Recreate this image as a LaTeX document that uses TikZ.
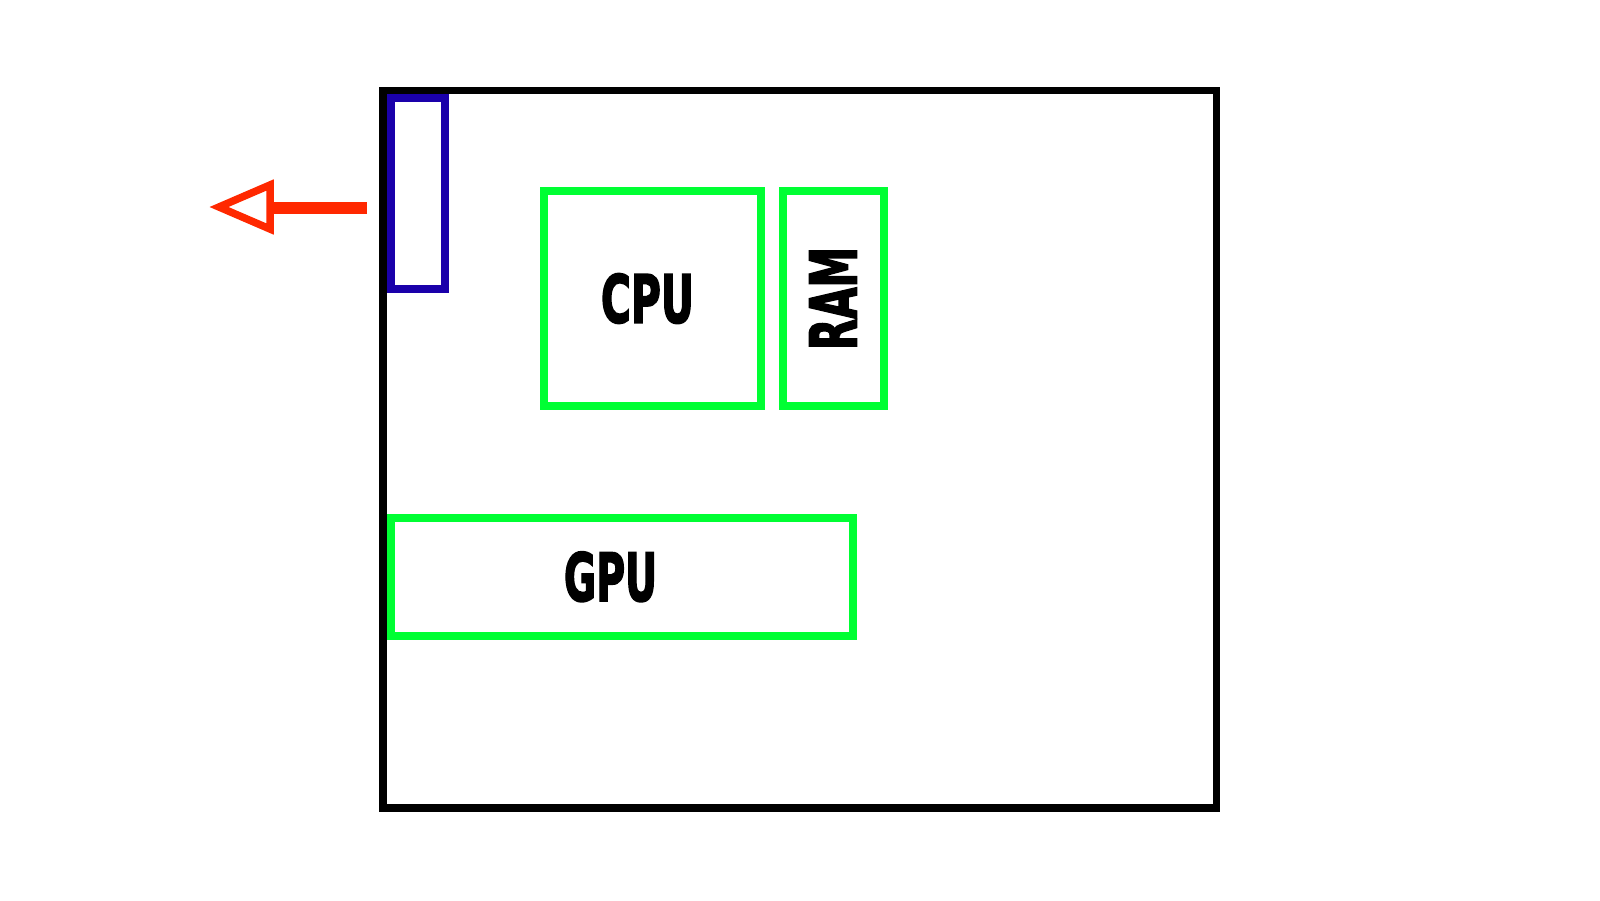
\documentclass[tikz,border=0pt]{standalone}
\usepackage{fontspec}
\setmainfont{DejaVu Sans}
\newfontfamily\heavyfont{DejaVu Sans}[BoldFeatures={FakeBold=3}]
\usetikzlibrary{positioning,calc}
\definecolor{chipgreen}{RGB}{0,255,51}
\definecolor{portblue}{RGB}{26,0,170}
\definecolor{arrred}{RGB}{255,40,0}
\tikzset{
  chipbox/.style={draw=chipgreen, line width=8pt, inner sep=0pt, outer sep=0pt, rectangle, text=black, font=\heavyfont\bfseries},
  portbox/.style={draw=portblue, line width=8pt, inner sep=0pt, rectangle},
  casebox/.style={draw=black, line width=7.5pt, inner sep=0pt, rectangle, miter limit=10},
  outarrow/.style={draw=arrred, line width=12pt},
  outhead/.style={draw=arrred, line width=7.5pt, line join=miter, miter limit=20}
}
\begin{document}
\begin{tikzpicture}[x=1pt, y=-1pt]
\useasboundingbox (0,0) rectangle (1600,900);
% case
\node[casebox, minimum width=833.7pt, minimum height=717.5pt] (case) at (799.85,449.25) {};
% port
\node[portbox, minimum width=53.4pt, minimum height=191pt] (port) at (418,193.5) {};
% CPU
\node[chipbox, minimum width=217pt, minimum height=215pt] (cpu) at (652.5,298.5)
  {\hspace{-10pt}\resizebox{93pt}{49pt}{CPU}};
% RAM
\node[chipbox, minimum width=101pt, minimum height=215pt] (ram) at (833,298.5)
  {\rotatebox{90}{\resizebox{103pt}{47pt}{RAM}}};
% GPU
\node[chipbox, minimum width=462pt, minimum height=117.5pt] (gpu) at (622,576.75)
  {\hspace{-23pt}\resizebox{93pt}{49pt}{GPU}};
% arrow
\coordinate (arrS) at (366.7,208);
\coordinate (arrB) at (270,208);
\coordinate (arrT) at (219,207);
\draw[outarrow] (arrS) -- (arrB);
\draw[outhead] (arrT) -- ($(arrB)+(0,-23)$) -- ($(arrB)+(0,21)$) -- cycle;
\end{tikzpicture}
\end{document}
